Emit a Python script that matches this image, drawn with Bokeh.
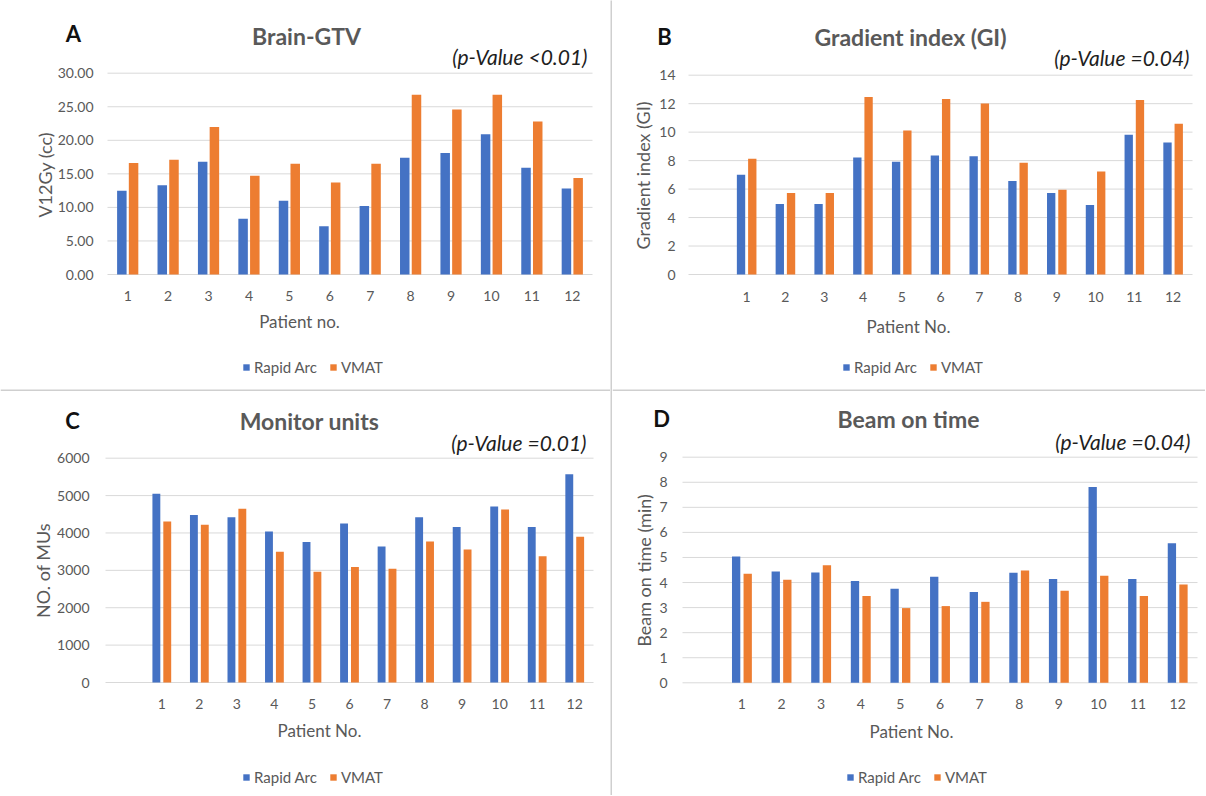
import numpy as np
from math import pi
from bokeh.plotting import figure
from bokeh.models import Range1d, Label, Legend, LegendItem, Span
from bokeh.core.properties import value
from bokeh.layouts import row, column
from bokeh.embed import file_html
from bokeh.resources import INLINE

# ---------------- data ----------------
patients = [1, 2, 3, 4, 5, 6, 7, 8, 9, 10, 11, 12]
patient_labels = ["1", "2", "3", "4", "5", "6", "7", "8", "9", "10", "11", "12"]
series_names = ["Rapid Arc", "VMAT"]

gtv_rapid = [12.5, 13.3, 16.8, 8.3, 11.0, 7.2, 10.2, 17.4, 18.1, 20.9, 15.9, 12.8]
gtv_vmat = [16.6, 17.1, 22.0, 14.7, 16.5, 13.7, 16.5, 26.8, 24.6, 26.8, 22.8, 14.4]

gi_rapid = [7.0, 4.96, 4.96, 8.22, 7.92, 8.36, 8.31, 6.56, 5.72, 4.89, 9.81, 9.27]
gi_vmat = [8.13, 5.72, 5.72, 12.46, 10.12, 12.32, 12.01, 7.85, 5.95, 7.24, 12.25, 10.59]

mu_rapid = [5050, 4480, 4420, 4040, 3760, 4250, 3640, 4420, 4160, 4710, 4160, 5570]
mu_vmat = [4310, 4220, 4650, 3500, 2960, 3090, 3040, 3770, 3560, 4630, 3380, 3900]

bot_rapid = [5.04, 4.44, 4.40, 4.06, 3.75, 4.23, 3.62, 4.39, 4.14, 7.81, 4.14, 5.57]
bot_vmat = [4.35, 4.11, 4.69, 3.46, 2.98, 3.06, 3.23, 4.48, 3.67, 4.27, 3.46, 3.92]

gtv_ticks = [0, 5, 10, 15, 20, 25, 30]
gi_ticks = [0, 2, 4, 6, 8, 10, 12, 14]
mu_ticks = [0, 1000, 2000, 3000, 4000, 5000, 6000]
bot_ticks = [0, 1, 2, 3, 4, 5, 6, 7, 8, 9]

# ---------------- style ----------------
FONT = "Lato"
BLUE = "#4472C4"
ORANGE = "#ED7D31"
GRID = "#D9D9D9"
TXT = "#595959"
SEP = "#CFCFCF"


def make_panel(fx, fy, w, h, area, xr, yr, yticks, yfmt, rapid, vmat, bw, dx,
               letter, title, pval, ylabel, xlabel, pos, ytick_right, xtick_y,
               bottom_rule=False):
    al, ar, at, ab = area          # plot-area edges in page pixels
    kx = (xr[1] - xr[0]) / (ar - al)
    ky = (yr[1] - yr[0]) / (ab - at)

    def d(X, Y):
        return xr[0] + (X - al) * kx, yr[0] + (ab - Y) * ky

    x_full = (d(fx, 0)[0], d(fx + w, 0)[0])
    y_full = (d(0, fy + h)[1], d(0, fy)[1])
    p = figure(width=w, height=h, x_range=Range1d(*x_full), y_range=Range1d(*y_full),
               output_backend="svg", toolbar_location=None, title=None,
               x_axis_type=None, y_axis_type=None, min_border=0)
    p.background_fill_color = "white"
    p.border_fill_color = "white"
    p.outline_line_color = None

    # value gridlines across the plot area
    n = len(yticks)
    p.segment(x0=[xr[0]] * n, x1=[xr[1]] * n, y0=yticks, y1=yticks,
              line_color=GRID, line_width=1)

    # bars
    xs = np.array(patients, dtype=float)
    r1 = p.vbar(x=xs - dx, top=rapid, width=bw, fill_color=BLUE, line_color=None)
    r2 = p.vbar(x=xs + dx, top=vmat, width=bw, fill_color=ORANGE, line_color=None)

    # tick labels
    yl_x = d(ytick_right, 0)[0]
    p.text(x=[yl_x] * n, y=yticks, text=[yfmt % t for t in yticks],
           text_align="right", text_baseline="middle", text_font=value(FONT),
           text_font_size="14px", text_color=TXT)
    xl_y = d(0, xtick_y)[1]
    p.text(x=patients, y=[xl_y] * len(patients), text=patient_labels,
           text_align="center", text_baseline="middle", text_font=value(FONT),
           text_font_size="14px", text_color=TXT)

    # texts
    x, y = d(*pos["letter"])
    p.add_layout(Label(x=x, y=y, text=letter, text_align="center", text_baseline="middle",
                       text_font=FONT, text_font_size="22px", text_font_style="bold",
                       text_color="#111111"))
    x, y = d(*pos["title"])
    p.add_layout(Label(x=x, y=y, text=title, text_align="center", text_baseline="middle",
                       text_font=FONT, text_font_size="23px", text_font_style="bold",
                       text_color=TXT))
    x, y = d(*pos["pval"])
    p.add_layout(Label(x=x, y=y, text=pval, text_align="right", text_baseline="middle",
                       text_font=FONT, text_font_size="21px", text_font_style="italic",
                       text_color="#1e1e1e"))
    x, y = d(*pos["ylabel"])
    p.add_layout(Label(x=x, y=y, text=ylabel, text_align="center", text_baseline="middle",
                       angle=pi / 2, text_font=FONT, text_font_size="18px",
                       text_color=TXT))
    x, y = d(*pos["xlabel"])
    p.add_layout(Label(x=x, y=y, text=xlabel, text_align="center", text_baseline="middle",
                       text_font=FONT, text_font_size="17px", text_color=TXT))

    lx, ly = pos["legend"]
    lh = 16
    vx = lx - fx
    vy = (fy + h) - (ly + lh / 2)
    legend = Legend(items=[LegendItem(label=series_names[0], renderers=[r1]),
                           LegendItem(label=series_names[1], renderers=[r2])],
                    orientation="horizontal", location=(vx, vy), padding=0, margin=0,
                    border_line_color=None, background_fill_alpha=0,
                    glyph_width=8, glyph_height=8, label_standoff=4, spacing=12,
                    label_height=lh, label_text_font=FONT, label_text_font_size="15px",
                    label_text_color=TXT, label_text_baseline="middle")
    p.add_layout(legend)

    if bottom_rule:
        p.add_layout(Span(location=d(0, fy + h - 1)[1], dimension="width",
                          line_color=SEP, line_width=2))
    return p


def vsep(w, h):
    s = figure(width=w, height=h, toolbar_location=None, output_backend="svg",
               title=None, min_border=0, x_axis_type=None, y_axis_type=None,
               x_range=Range1d(0, 1), y_range=Range1d(0, 1))
    s.outline_line_color = None
    s.background_fill_color = SEP
    s.border_fill_color = SEP
    return s


LW, RW, TH, BH = 610, 593, 391, 404

pA = make_panel(0, 0, LW, TH, (107, 592, 72.7, 274), (0.5, 12.5), (0, 30),
                gtv_ticks, "%.2f", gtv_rapid, gtv_vmat, 0.235, 0.145,
                "A", "Brain-GTV", "(p-Value <0.01)", "V12Gy  (cc)", "Patient no.",
                {"letter": (73, 33), "title": (306, 35), "pval": (587, 56),
                 "ylabel": (44, 172), "xlabel": (299, 321), "legend": (242, 368)},
                93, 295, bottom_rule=True)

pB = make_panel(612, 0, RW, TH, (688, 1192, 74.7, 274), (-0.5, 12.5), (0, 14),
                gi_ticks, "%d", gi_rapid, gi_vmat, 0.215, 0.145,
                "B", "Gradient index (GI)", "(p-Value =0.04)", "Gradient index (GI)", "Patient No.",
                {"letter": (664, 36), "title": (910, 36), "pval": (1189, 57),
                 "ylabel": (642, 175), "xlabel": (908, 326), "legend": (842, 368)},
                675, 296, bottom_rule=True)

pC = make_panel(0, 391, LW, BH, (105, 593, 457.7, 682), (-0.5, 12.5), (0, 6000),
                mu_ticks, "%d", mu_rapid, mu_vmat, 0.21, 0.145,
                "C", "Monitor units", "(p-Value =0.01)", "NO. of MUs", "Patient No.",
                {"letter": (72, 420), "title": (309, 420), "pval": (586, 442),
                 "ylabel": (42, 570), "xlabel": (319, 730), "legend": (242, 778)},
                89, 703)

pD = make_panel(612, 391, RW, BH, (682, 1197, 456.7, 682.3), (-0.5, 12.5), (0, 9),
                bot_ticks, "%d", bot_rapid, bot_vmat, 0.21, 0.146,
                "D", "Beam on time", "(p-Value =0.04)", "Beam on time (min)", "Patient No.",
                {"letter": (661, 418), "title": (908, 418), "pval": (1190, 441),
                 "ylabel": (643, 570), "xlabel": (911, 731), "legend": (846, 778)},
                667, 703)

layout = row(column(pA, pC), vsep(2, TH + BH), column(pB, pD))

open("out.html", "w").write(file_html(layout, INLINE))
